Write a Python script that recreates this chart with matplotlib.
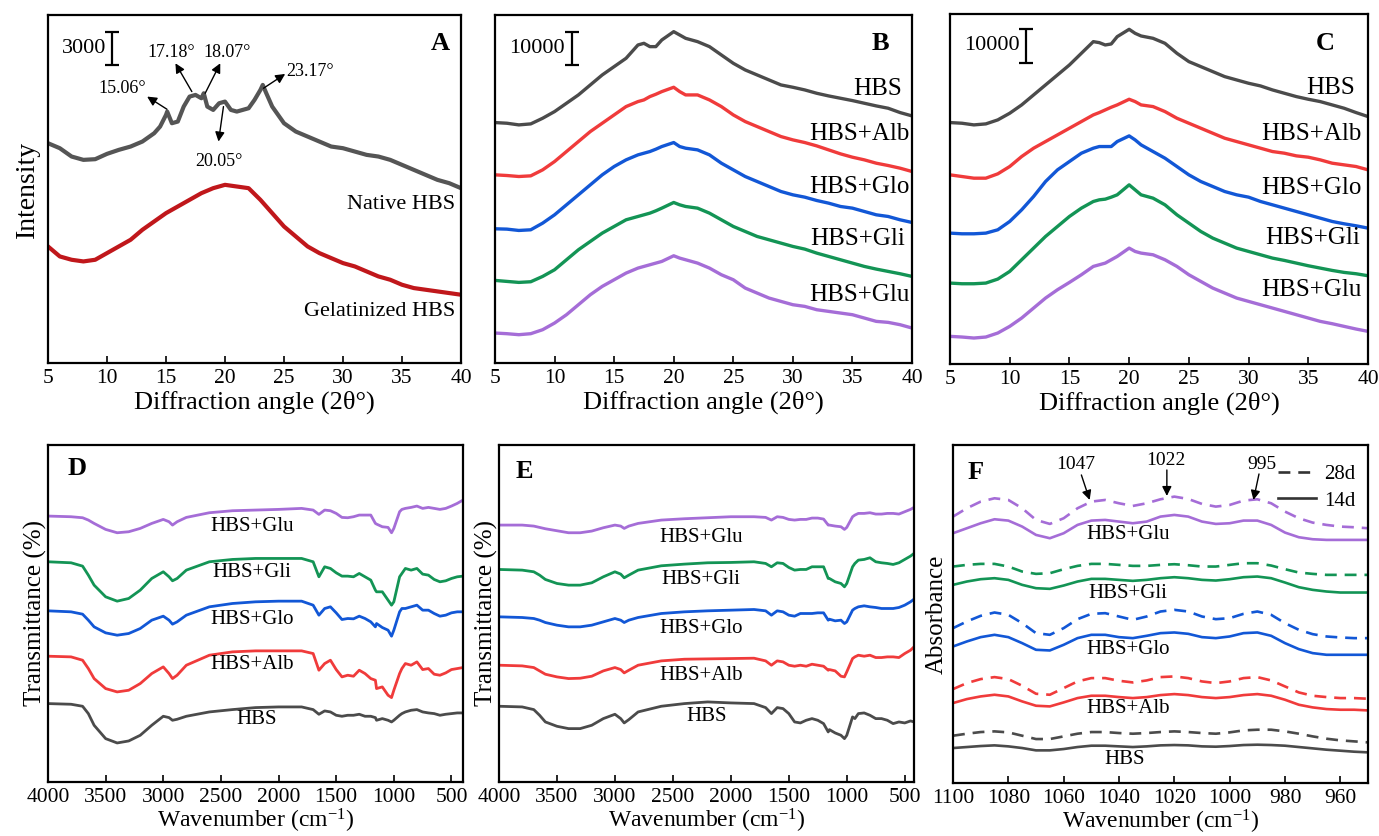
import numpy as np
import matplotlib
matplotlib.use('Agg')
import matplotlib.pyplot as plt
from matplotlib.lines import Line2D

plt.rcParams['font.family'] = ['Liberation Serif', 'DejaVu Serif']
plt.rcParams['mathtext.fontset'] = 'custom'
plt.rcParams['mathtext.rm'] = 'Liberation Serif'
plt.rcParams['mathtext.it'] = 'Liberation Serif:italic'
plt.rcParams['mathtext.bf'] = 'Liberation Serif:bold'

# ---------------- Panel A : XRD native vs gelatinized ----------------
a_native_x = [5, 6, 7, 8, 9, 10, 11, 12, 13, 14, 14.5, 15, 15.1, 15.5, 16, 16.5, 17, 17.5, 18, 18.2,
              18.5, 19, 19.5, 20, 20.5, 21, 22, 22.5, 23, 23.2, 23.5, 24, 25, 26, 27, 28, 29, 30,
              31, 32, 33, 34, 35, 36, 37, 38, 39, 40]
a_native_y = [19800, 19350, 18600, 18300, 18360, 18840, 19200, 19500, 19950, 20700, 21300, 22350, 22650,
              21600, 21750, 23100, 24000, 24150, 23850, 24300, 23100, 22800, 23400, 23550, 22800, 22650,
              22950, 23700, 24600, 25050, 24300, 23100, 21600, 20850, 20400, 19950, 19500, 19350,
              19050, 18750, 18600, 18300, 17850, 17400, 16950, 16500, 16200, 15750]
a_gel_x = list(range(5, 41))
a_gel_y = [10500, 9600, 9300, 9150, 9300, 9900, 10500, 11100, 12000, 12750, 13500, 14100, 14700, 15300,
           15750, 16050, 15900, 15750, 14700, 13500, 12300, 11400, 10500, 9900, 9450, 9000, 8700, 8250,
           7800, 7500, 7050, 6750, 6600, 6450, 6300, 6150]

# ---------------- Panels B and C : XRD with proteins ----------------
xrd_x = [5, 6, 7, 8, 9, 10, 11, 12, 13, 14, 15, 16, 17, 17.5, 18, 18.5, 19, 20, 20.5, 21, 22, 23, 24,
         25, 26, 27, 28, 29, 30, 31, 32, 33, 34, 35, 36, 37, 38, 39, 40]
samples = ['HBS', 'HBS+Alb', 'HBS+Glo', 'HBS+Gli', 'HBS+Glu']

b_hbs = [72200, 72000, 71500, 71800, 73500, 75500, 78000, 80500, 83500, 86500, 89000, 91500, 95500, 96000,
         95000, 95000, 97000, 99500, 98500, 97500, 96500, 95000, 92500, 90000, 88000, 86500, 85000, 83500,
         82800, 82000, 81000, 80200, 79500, 78800, 78000, 77200, 76500, 75200, 74200]
b_alb = [56500, 56300, 56000, 56200, 58000, 60500, 63500, 66500, 69500, 72000, 74500, 77000, 78500, 79000,
         80000, 80700, 81500, 82800, 81500, 80500, 80500, 79000, 77000, 74500, 72500, 71000, 69500, 68000,
         67000, 66200, 65200, 64000, 62800, 61800, 61000, 60000, 59300, 58500, 57500]
b_glo = [40300, 40200, 39800, 40000, 42000, 44500, 47500, 50500, 53500, 56500, 59000, 61000, 62500, 63000,
         63500, 64200, 65000, 66200, 65000, 64500, 64000, 62500, 60000, 58000, 56000, 54500, 53000, 51500,
         50500, 49800, 48800, 48000, 47000, 46500, 45500, 44500, 44000, 43000, 42200]
b_gli = [24800, 24500, 24200, 24400, 26000, 28000, 31000, 34000, 36500, 39000, 41000, 43000, 44000, 44500,
         45000, 45700, 46500, 48200, 47500, 47000, 46500, 45000, 43000, 41000, 39500, 38000, 37000, 36000,
         35000, 34200, 33000, 32000, 31000, 30000, 29000, 28200, 27500, 26800, 26000]
b_glu = [9000, 8800, 8500, 8800, 10000, 12000, 14500, 17500, 20500, 23000, 25000, 27000, 28500, 29000,
         29500, 30000, 30500, 32200, 31500, 31000, 30000, 28500, 26500, 25000, 22500, 21000, 19500, 18500,
         17500, 17000, 16000, 15500, 15000, 14500, 13500, 12500, 12200, 11500, 10500]

c_hbs = [72500, 72300, 71800, 72100, 73300, 75300, 77800, 80800, 83800, 86800, 89800, 93300, 96800, 96500,
         95800, 96100, 98300, 100500, 99300, 98500, 97800, 96300, 93300, 90800, 89300, 87800, 86300, 85300,
         84300, 83500, 82300, 81300, 80300, 79500, 78800, 77800, 76800, 75500, 74300]
c_alb = [56800, 56300, 55800, 55800, 57100, 59300, 62300, 64800, 66800, 68800, 70800, 72800, 74800, 75500,
         76300, 77100, 77800, 79500, 78800, 77800, 77300, 75800, 73800, 72300, 70800, 69300, 67800, 66800,
         65800, 64800, 63800, 63300, 62500, 62100, 61300, 60300, 59800, 59300, 58300]
c_glo = [39300, 39100, 39100, 39300, 40300, 42800, 46300, 50300, 54800, 58300, 60800, 63300, 64800, 65300,
         65300, 65300, 66800, 68500, 67300, 65800, 63800, 61800, 59300, 56800, 54800, 53300, 51800, 50800,
         50100, 48800, 47800, 46800, 45800, 44800, 43800, 42800, 42100, 41500, 40800]
c_gli = [24300, 24100, 24100, 24300, 25500, 27800, 31300, 34800, 38300, 41300, 44300, 46800, 48800, 49300,
         49500, 50100, 50800, 53800, 52300, 50800, 49800, 47800, 44800, 42300, 39800, 37800, 36300, 34800,
         33800, 32800, 31800, 31100, 30300, 29500, 28800, 28100, 27500, 27100, 26500]
c_glu = [8300, 8100, 7800, 8100, 9300, 11300, 13800, 16800, 19800, 22300, 24500, 26800, 29300, 29800,
         30300, 31300, 32300, 34800, 33800, 33300, 32800, 31300, 29300, 26800, 24800, 22800, 21300, 19800,
         18800, 17800, 16800, 15800, 14800, 13800, 12800, 12100, 11300, 10500, 9800]

# ---------------- Panels D and E : FTIR transmittance ----------------
ftir_x_d = [4000, 3800, 3700, 3650, 3600, 3500, 3400, 3300, 3200, 3100, 3000, 2950, 2920, 2880, 2800, 2600,
            2400, 2200, 2000, 1800, 1700, 1650, 1600, 1550, 1500, 1450, 1400, 1350, 1300, 1250, 1200, 1160,
            1150, 1100, 1050, 1020, 1000, 950, 930, 900, 850, 800, 750, 700, 650, 600, 550, 500, 450, 400]
ftir_x_e = ftir_x_d[:-1] + [420]

d_hbs = [235, 233, 227, 205, 170, 130, 117, 123, 140, 170, 197, 193, 185, 188, 197, 210, 217, 223, 225, 225,
         217, 203, 213, 210, 200, 197, 200, 200, 203, 197, 197, 193, 185, 190, 185, 180, 185, 200, 205, 210,
         215, 217, 210, 207, 205, 200, 203, 205, 207, 207]
d_alb = [377, 375, 365, 340, 310, 280, 270, 275, 295, 325, 345, 325, 310, 320, 350, 380, 390, 393, 393, 393,
         385, 335, 355, 365, 337, 315, 320, 317, 335, 325, 310, 305, 280, 285, 260, 253, 275, 325, 340, 355,
         350, 360, 337, 340, 323, 320, 327, 337, 340, 343]
d_glo = [513, 510, 503, 485, 465, 447, 440, 445, 460, 485, 497, 485, 473, 480, 500, 525, 535, 540, 542, 542,
         530, 500, 520, 525, 507, 487, 490, 489, 497, 490, 480, 465, 475, 463, 455, 437, 455, 510, 520, 520,
         525, 530, 515, 515, 505, 497, 500, 507, 510, 510]
d_gli = [660, 657, 647, 620, 590, 555, 542, 550, 575, 610, 630, 615, 603, 610, 635, 660, 667, 670, 670, 670,
         660, 615, 645, 640, 627, 617, 617, 615, 625, 615, 605, 575, 570, 570, 545, 530, 540, 615, 625, 640,
         635, 640, 623, 620, 607, 600, 603, 610, 615, 617]
d_glu = [797, 795, 792, 785, 775, 757, 747, 750, 760, 775, 787, 780, 770, 780, 793, 807, 813, 815, 817, 820,
         815, 802, 815, 813, 805, 793, 792, 795, 800, 800, 800, 775, 773, 765, 763, 747, 760, 810, 817, 820,
         823, 827, 820, 823, 820, 817, 820, 827, 835, 845]

e_hbs = [227, 225, 217, 200, 180, 167, 160, 160, 170, 190, 203, 190, 177, 187, 210, 227, 235, 240, 237, 235,
         223, 205, 223, 220, 205, 180, 177, 185, 190, 185, 175, 150, 157, 147, 140, 130, 140, 195, 190, 205,
         207, 200, 190, 190, 185, 175, 180, 177, 183, 180]
e_alb = [350, 348, 343, 333, 323, 315, 310, 311, 317, 333, 343, 337, 327, 335, 350, 363, 368, 369, 370, 371,
         363, 350, 363, 360, 350, 347, 350, 347, 353, 350, 347, 335, 337, 333, 317, 315, 330, 370, 375, 380,
         377, 380, 373, 373, 375, 375, 373, 385, 395, 405]
e_glo = [495, 493, 490, 485, 478, 470, 465, 465, 470, 480, 490, 485, 478, 485, 493, 505, 510, 513, 515, 517,
         513, 500, 513, 510, 500, 497, 505, 505, 505, 507, 507, 485, 488, 483, 485, 475, 480, 515, 520, 525,
         528, 525, 523, 520, 520, 520, 523, 530, 540, 548]
e_gli = [637, 635, 630, 620, 607, 595, 590, 590, 597, 615, 630, 623, 612, 620, 635, 648, 653, 657, 658, 660,
         655, 645, 657, 655, 643, 635, 637, 637, 645, 645, 645, 610, 610, 600, 595, 585, 595, 645, 655, 665,
         667, 672, 660, 657, 655, 652, 657, 667, 677, 685]
e_glu = [770, 770, 767, 763, 759, 753, 747, 747, 752, 762, 770, 767, 760, 767, 775, 785, 789, 792, 795, 795,
         793, 785, 795, 793, 787, 785, 787, 787, 791, 791, 788, 770, 770, 767, 765, 757, 763, 795, 800, 805,
         805, 807, 803, 803, 805, 805, 803, 810, 817, 823]

# ---------------- Panel F : deconvoluted absorbance, 14 d vs 28 d ----------------
f_x = [1100, 1095, 1090, 1085, 1080, 1075, 1070, 1065, 1060, 1055, 1050, 1045, 1040, 1035, 1030, 1025,
       1020, 1015, 1010, 1005, 1000, 995, 990, 985, 980, 975, 970, 965, 960, 955, 950]
f_glu_28 = [800, 825, 845, 855, 850, 825, 790, 778, 795, 825, 845, 850, 840, 832, 840, 852, 860, 853, 838,
            830, 835, 848, 852, 840, 815, 795, 782, 775, 770, 768, 765]
f_glu_14 = [750, 765, 780, 792, 788, 770, 745, 735, 750, 775, 788, 790, 785, 780, 785, 800, 805, 800, 785,
            778, 780, 788, 788, 775, 752, 738, 732, 730, 730, 730, 730]
f_gli_28 = [650, 655, 658, 658, 650, 635, 628, 630, 642, 652, 658, 658, 655, 652, 652, 655, 657, 654, 650,
            650, 655, 660, 660, 653, 642, 632, 628, 625, 625, 625, 625]
f_gli_14 = [595, 605, 612, 615, 610, 595, 585, 583, 593, 605, 613, 613, 610, 607, 610, 615, 618, 615, 610,
            608, 612, 618, 620, 615, 602, 588, 580, 575, 572, 572, 572]
f_glo_28 = [465, 485, 502, 512, 505, 480, 450, 445, 465, 492, 508, 510, 500, 490, 500, 515, 520, 515, 500,
            492, 495, 508, 515, 505, 480, 460, 447, 440, 437, 435, 435]
f_glo_14 = [410, 425, 438, 445, 438, 420, 400, 398, 415, 435, 445, 445, 438, 435, 442, 450, 452, 448, 438,
            435, 440, 450, 452, 442, 420, 402, 390, 385, 385, 385, 385]
f_alb_28 = [282, 300, 312, 318, 312, 292, 268, 265, 285, 305, 315, 315, 307, 302, 308, 318, 320, 315, 305,
            300, 305, 315, 318, 308, 290, 272, 262, 258, 255, 255, 253]
f_alb_14 = [240, 252, 260, 265, 260, 245, 232, 230, 242, 255, 262, 262, 258, 255, 258, 264, 267, 264, 258,
            255, 258, 264, 267, 262, 250, 235, 227, 222, 220, 220, 218]
f_hbs_28 = [142, 148, 153, 155, 152, 142, 132, 132, 140, 148, 153, 153, 150, 148, 150, 153, 155, 153, 150,
            148, 152, 158, 160, 160, 155, 148, 140, 133, 128, 125, 122]
f_hbs_14 = [105, 108, 111, 113, 110, 105, 98, 98, 102, 108, 112, 112, 110, 108, 110, 113, 114, 113, 110,
            109, 111, 114, 115, 114, 112, 108, 104, 100, 97, 94, 92]

GRAY = '#4b4b4b'
RED = '#f03b3b'
BLUE = '#1257d6'
GREEN = '#139455'
PURPLE = '#a56dd7'
DARKRED = '#c0171b'
colors = [GRAY, RED, BLUE, GREEN, PURPLE]

W, H = 1379, 836
fig = plt.figure(figsize=(W / 100, H / 100), dpi=100)


def add_axes(x0, x1, y0, y1):
    return fig.add_axes([x0 / W, 1 - y1 / H, (x1 - x0) / W, (y1 - y0) / H])


def style(ax, xlim, xticks, ylim):
    ax.set_xlim(*xlim)
    ax.set_xticks(xticks)
    ax.set_ylim(*ylim)
    ax.set_yticks([])
    ax.tick_params(axis='x', direction='in', length=5, width=1.2, labelsize=15.5, pad=4)
    for s in ax.spines.values():
        s.set_linewidth(1.6)


def panel_letter(ax, letter, fx, fy):
    ax.text(fx, fy, letter, transform=ax.transAxes, fontsize=19, fontweight='bold',
            ha='center', va='center')


XLAB = 'Diffraction angle (2\u03b8\u00b0)'
WLAB = r'Wavenumber (cm$^{\mathregular{-1}}$)'
arrow = dict(arrowstyle='-|>', color='k', lw=1.0, mutation_scale=14, shrinkA=0, shrinkB=0)

# ---- A
axA = add_axes(48, 461, 15, 363)
style(axA, (5, 40), range(5, 41, 5), (0, 31350))
axA.plot(a_native_x, a_native_y, color='#555555', lw=3.0)
axA.plot(a_gel_x, a_gel_y, color=DARKRED, lw=3.0)
axA.errorbar([10.4], [28350], yerr=[1500], color='k', lw=1.6, capsize=5, capthick=1.6)
axA.text(9.9, 28350, '3000', ha='right', va='center', fontsize=16)
axA.text(39.5, 14250, 'Native HBS', ha='right', va='center', fontsize=16)
axA.text(39.5, 4650, 'Gelatinized HBS', ha='right', va='center', fontsize=16)
for txt, tpos, tail, head in [
        ('15.06\u00b0', (11.3, 24750), (15.08, 22860), (13.4, 24000)),
        ('17.18\u00b0', (15.4, 27960), (17.19, 24450), (15.8, 27000)),
        ('18.07\u00b0', (20.2, 27960), (18.32, 24300), (19.6, 27000)),
        ('20.05\u00b0', (19.45, 18150), (19.87, 23100), (19.45, 19950)),
        ('23.17\u00b0', (27.2, 26250), (23.26, 24750), (25.1, 26040))]:
    axA.text(tpos[0], tpos[1], txt, ha='center', va='center', fontsize=13)
    axA.annotate('', xy=head, xytext=tail, arrowprops=arrow)
axA.set_xlabel(XLAB, fontsize=19, labelpad=2)
axA.set_ylabel('Intensity', fontsize=20, labelpad=6)
panel_letter(axA, 'A', 0.949, 0.919)

# ---- B
axB = add_axes(495, 912, 15, 363)
style(axB, (5, 40), range(5, 41, 5), (0, 104500))
for ys, c in zip([b_hbs, b_alb, b_glo, b_gli, b_glu], colors):
    axB.plot(xrd_x, ys, color=c, lw=2.4)
axB.errorbar([11.43], [94500], yerr=[5000], color='k', lw=1.6, capsize=5, capthick=1.6)
axB.text(10.87, 94500, '10000', ha='right', va='center', fontsize=16)
for name, x, y in zip(samples, [39.2, 39.8, 39.8, 39.4, 39.8], [82200, 68800, 53000, 37200, 20500]):
    axB.text(x, y, name, ha='right', va='center', fontsize=18)
axB.set_xlabel(XLAB, fontsize=19, labelpad=2)
panel_letter(axB, 'B', 0.924, 0.919)

# ---- C
axC = add_axes(950, 1368, 14, 364)
style(axC, (5, 40), range(5, 41, 5), (0, 105100))
for ys, c in zip([c_hbs, c_alb, c_glo, c_gli, c_glu], colors):
    axC.plot(xrd_x, ys, color=c, lw=2.4)
axC.errorbar([11.37], [95500], yerr=[5000], color='k', lw=1.6, capsize=5, capthick=1.6)
axC.text(10.87, 95500, '10000', ha='right', va='center', fontsize=16)
for name, x, y in zip(samples, [38.9, 39.5, 39.5, 39.3, 39.5], [82800, 69100, 52800, 37800, 22300]):
    axC.text(x, y, name, ha='right', va='center', fontsize=18)
axC.set_xlabel(XLAB, fontsize=19, labelpad=2)
panel_letter(axC, 'C', 0.898, 0.916)

# ---- D
axD = add_axes(48, 463, 445, 782)
style(axD, (4000, 400), range(4000, 399, -500), (0, 1010))
for ys, c in zip([d_hbs, d_alb, d_glo, d_gli, d_glu], colors):
    axD.plot(ftir_x_d, ys, color=c, lw=2.0)
for name, x, y in zip(samples, [2192, 2229, 2229, 2229, 2229], [188, 353, 488, 627, 767]):
    axD.text(x, y, name, ha='center', va='center', fontsize=15)
axD.set_xlabel(WLAB, fontsize=17, labelpad=0)
axD.set_ylabel('Transmittance (%)', fontsize=18, labelpad=1)
panel_letter(axD, 'D', 0.07, 0.93)

# ---- E
axE = add_axes(499, 914, 445, 782)
style(axE, (4000, 420), range(4000, 419, -500), (0, 1010))
for ys, c in zip([e_hbs, e_alb, e_glo, e_gli, e_glu], colors):
    axE.plot(ftir_x_e, ys, color=c, lw=2.0)
for name, x, y in zip(samples, [2211, 2260, 2260, 2260, 2260], [195, 320, 460, 608, 732]):
    axE.text(x, y, name, ha='center', va='center', fontsize=15)
axE.set_xlabel(WLAB, fontsize=17, labelpad=0)
axE.set_ylabel('Transmittance (%)', fontsize=18, labelpad=1)
panel_letter(axE, 'E', 0.06, 0.92)

# ---- F
axF = add_axes(953, 1368, 445, 783)
style(axF, (1100, 950), range(1100, 951, -20), (0, 1015))
dash = (0, (4.5, 3))
pairs = [(f_hbs_28, f_hbs_14), (f_alb_28, f_alb_14), (f_glo_28, f_glo_14),
         (f_gli_28, f_gli_14), (f_glu_28, f_glu_14)]
for (y28, y14), c in zip(pairs, colors):
    axF.plot(f_x, y28, color=c, lw=1.9, ls=dash)
    axF.plot(f_x, y14, color=c, lw=1.9)
for name, x, y in zip(samples, [1038, 1036.8, 1036.8, 1036.8, 1036.8], [70, 225, 400, 570, 745]):
    axF.text(x, y, name, ha='center', va='center', fontsize=15)
for txt, tpos, tail, head in [
        ('1047', (1055.6, 955), (1053.6, 925), (1050.6, 850)),
        ('1022', (1023, 968), (1022.7, 940), (1022.7, 862)),
        ('995', (988.2, 955), (989.4, 928), (991.4, 850))]:
    axF.text(tpos[0], tpos[1], txt, ha='center', va='center', fontsize=14)
    axF.annotate('', xy=head, xytext=tail, arrowprops=arrow)
handles = [Line2D([], [], color='#333333', lw=1.9, ls=dash), Line2D([], [], color='#333333', lw=1.9)]
axF.legend(handles, ['28d', '14d'], loc='upper right', bbox_to_anchor=(1.0, 0.98), frameon=False,
           fontsize=15, handlelength=1.8, handletextpad=0.4, labelspacing=0.35, borderaxespad=0.2)
axF.set_xlabel(WLAB, fontsize=17, labelpad=0)
axF.set_ylabel('Absorbance', fontsize=18, labelpad=4)
panel_letter(axF, 'F', 0.054, 0.92)

fig.savefig('out.png', dpi=100)
